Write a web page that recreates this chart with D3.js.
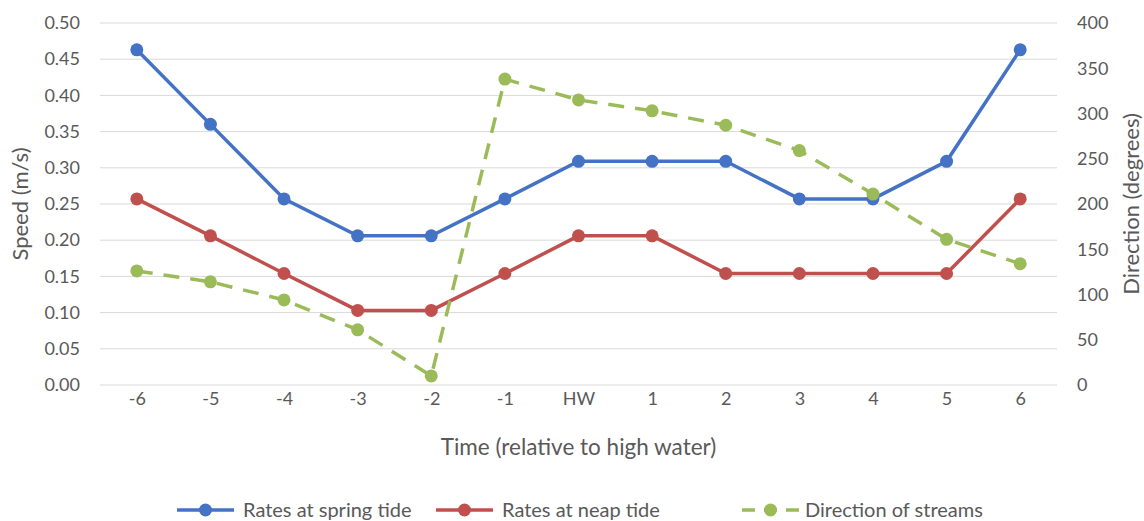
<!DOCTYPE html>
<html>
<head>
<meta charset="utf-8">
<script src="https://cdn.jsdelivr.net/npm/d3@7"></script>
<style>
  body { margin: 0; background: #fff; }
  text { font-family: Lato, "Open Sans", sans-serif; fill: #595959; }
</style>
</head>
<body>
<div class="chart"></div>
<script>
var svgWidth = 1144;
var svgHeight = 521;
var margin = { top: 23, right: 87, bottom: 136, left: 100 };

var width = svgWidth - margin.left - margin.right;
var height = svgHeight - margin.top - margin.bottom;

// Data
var times = ["-6", "-5", "-4", "-3", "-2", "-1", "HW", "1", "2", "3", "4", "5", "6"];
var springRates = [0.463, 0.360, 0.257, 0.206, 0.206, 0.257, 0.309, 0.309, 0.309, 0.257, 0.257, 0.309, 0.463];
var neapRates = [0.257, 0.206, 0.154, 0.103, 0.103, 0.154, 0.206, 0.206, 0.154, 0.154, 0.154, 0.154, 0.257];
var directions = [126, 114, 94, 61, 10, 338, 315, 303, 287, 259, 211, 161, 134];
var speedTicks = [0, 0.05, 0.1, 0.15, 0.2, 0.25, 0.3, 0.35, 0.4, 0.45, 0.5];
var dirTicks = [0, 50, 100, 150, 200, 250, 300, 350, 400];

var svg = d3.select(".chart")
    .append("svg")
    .attr("width", svgWidth)
    .attr("height", svgHeight);

var chartGroup = svg.append("g")
    .attr("transform", `translate(${margin.left}, ${margin.top})`);

// Scales
var xScale = d3.scalePoint()
    .domain(times)
    .range([0, width])
    .padding(0.5);

var yLeft = d3.scaleLinear().domain([0, 0.5]).range([height, 0]);
var yRight = d3.scaleLinear().domain([0, 400]).range([height, 0]);

// Gridlines
chartGroup.append("g")
    .selectAll("line")
    .data(speedTicks)
    .enter()
    .append("line")
    .attr("x1", 0)
    .attr("x2", width)
    .attr("y1", d => yLeft(d))
    .attr("y2", d => yLeft(d))
    .attr("stroke", "#d9d9d9")
    .attr("stroke-width", 1);

// Axes
var leftAxis = d3.axisLeft(yLeft).tickValues(speedTicks).tickFormat(d3.format(".2f")).tickSize(0).tickPadding(20);
var rightAxis = d3.axisRight(yRight).tickValues(dirTicks).tickSize(0).tickPadding(20);
var bottomAxis = d3.axisBottom(xScale).tickSize(0).tickPadding(7);

[chartGroup.append("g").call(leftAxis),
 chartGroup.append("g").attr("transform", `translate(${width}, 0)`).call(rightAxis),
 chartGroup.append("g").attr("transform", `translate(0, ${height})`).call(bottomAxis)
].forEach(function(g) {
    g.select(".domain").remove();
    g.selectAll("text").style("font-size", "18px").style("font-family", "Lato, sans-serif").attr("fill", "#595959");
});

// Series
var series = [
    { name: "Rates at spring tide", values: springRates, scale: yLeft, color: "#4472c4", dash: null },
    { name: "Rates at neap tide", values: neapRates, scale: yLeft, color: "#c0504d", dash: null },
    { name: "Direction of streams", values: directions, scale: yRight, color: "#9bbb59", dash: "16,11" }
];

series.forEach(function(s) {
    var line = d3.line()
        .x((d, i) => xScale(times[i]))
        .y(d => s.scale(d));

    chartGroup.append("path")
        .datum(s.values)
        .attr("fill", "none")
        .attr("stroke", s.color)
        .attr("stroke-width", 3.5)
        .attr("stroke-dasharray", s.dash)
        .attr("d", line);

    chartGroup.append("g")
        .selectAll("circle")
        .data(s.values)
        .enter()
        .append("circle")
        .attr("cx", (d, i) => xScale(times[i]))
        .attr("cy", d => s.scale(d))
        .attr("r", 6.5)
        .attr("fill", s.color);
});

// Axis titles
svg.append("text")
    .attr("transform", `translate(28, ${margin.top + height / 2}) rotate(-90)`)
    .attr("text-anchor", "middle")
    .style("font-size", "22px")
    .text("Speed (m/s)");

svg.append("text")
    .attr("transform", `translate(1139, ${margin.top + height / 2}) rotate(-90)`)
    .attr("text-anchor", "middle")
    .style("font-size", "22px")
    .text("Direction (degrees)");

svg.append("text")
    .attr("x", margin.left + width / 2)
    .attr("y", 455)
    .attr("text-anchor", "middle")
    .style("font-size", "22.5px")
    .text("Time (relative to high water)");

// Legend
var legendX = [177, 436, 742];
var legend = svg.append("g");
series.forEach(function(s, i) {
    var g = legend.append("g").attr("transform", `translate(${legendX[i]}, 510)`);
    g.append("line")
        .attr("x1", 0).attr("x2", 57)
        .attr("y1", 0).attr("y2", 0)
        .attr("stroke", s.color)
        .attr("stroke-width", 3.5)
        .attr("stroke-dasharray", s.dash ? "13,9" : null);
    g.append("circle")
        .attr("cx", 28.5).attr("cy", 0).attr("r", 6.5)
        .attr("fill", s.color);
    g.append("text")
        .attr("x", i == 2 ? 63 : 66)
        .attr("y", 6.5)
        .style("font-size", "20px")
        .text(s.name);
});
</script>
</body>
</html>
